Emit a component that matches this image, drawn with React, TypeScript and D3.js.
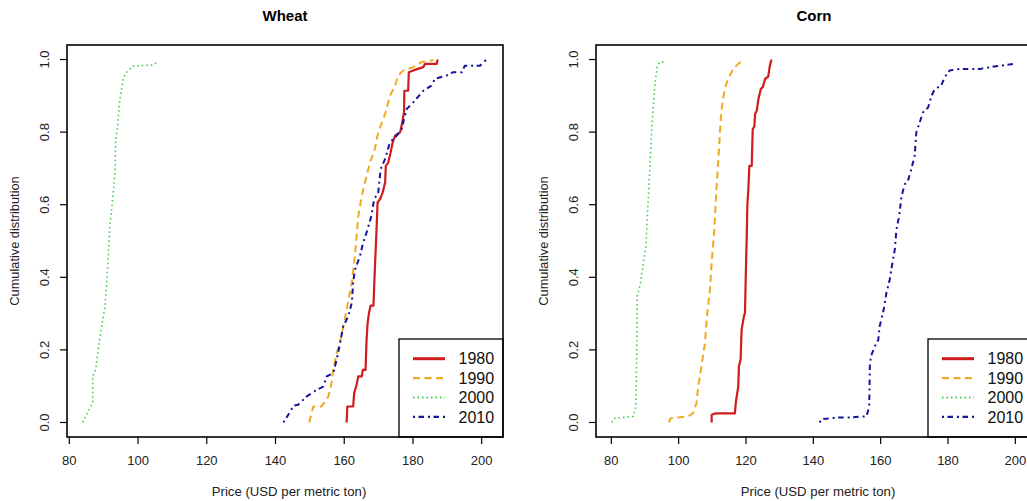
import * as d3 from "d3";

type Pt = [number, number]; // [price, cumulative share]

const DECADES = ["1980", "1990", "2000", "2010"];
const X_TICKS = [80, 100, 120, 140, 160, 180, 200];
const Y_TICKS = [0, 0.2, 0.4, 0.6, 0.8, 1.0];

// Wheat
const wheat1980: Pt[] = [
  [160.7, 0], [160.9, 0.044], [162.6, 0.044], [162.9, 0.081], [163.6, 0.104],
  [164.1, 0.127], [165.1, 0.127], [165.4, 0.145], [166.2, 0.145], [166.5, 0.228],
  [166.8, 0.274], [167.2, 0.302], [167.7, 0.322], [168.5, 0.322], [168.9, 0.42],
  [169.4, 0.532], [169.7, 0.606], [170.4, 0.615], [171.2, 0.634], [171.9, 0.661],
  [172.1, 0.707], [172.8, 0.716], [173.5, 0.744], [174.1, 0.772], [174.8, 0.79],
  [176.3, 0.8], [176.7, 0.818], [177.4, 0.855], [177.5, 0.914], [178.6, 0.914],
  [178.8, 0.965], [180.1, 0.97], [183.0, 0.979], [183.5, 0.988], [186.9, 0.988],
  [187.2, 1.0],
];
const wheat1990: Pt[] = [
  [149.8, 0], [151.0, 0.044], [153.4, 0.044], [155.4, 0.072], [156.3, 0.109],
  [156.8, 0.145], [157.8, 0.19], [159.2, 0.238], [160.7, 0.311], [162.2, 0.385],
  [163.1, 0.459], [164.1, 0.569], [165.1, 0.624], [166.0, 0.661], [167.5, 0.716],
  [168.9, 0.753], [169.9, 0.8], [171.4, 0.836], [172.3, 0.864], [173.3, 0.9],
  [174.8, 0.928], [175.7, 0.956], [177.2, 0.97], [180.1, 0.979], [182.5, 0.993],
  [185.4, 0.997], [185.9, 1.0],
];
const wheat2000: Pt[] = [
  [83.9, 0], [86.0, 0.04], [86.8, 0.054], [86.8, 0.127], [87.7, 0.146],
  [88.4, 0.2], [89.4, 0.265], [90.4, 0.32], [91.1, 0.42], [91.8, 0.54],
  [92.6, 0.615], [93.3, 0.69], [93.5, 0.78], [94.0, 0.81], [94.5, 0.873],
  [95.2, 0.919], [95.7, 0.95], [96.7, 0.965], [98.6, 0.982], [104.4, 0.985],
  [105.6, 0.993],
];
const wheat2010: Pt[] = [
  [142.3, 0], [143.7, 0.021], [145.2, 0.046], [146.6, 0.049], [149.1, 0.072],
  [152.0, 0.09], [153.9, 0.099], [154.9, 0.127], [156.8, 0.136], [157.8, 0.173],
  [158.8, 0.219], [159.7, 0.265], [161.2, 0.293], [162.2, 0.33], [162.6, 0.385],
  [163.1, 0.42], [164.6, 0.459], [165.5, 0.495], [166.5, 0.523], [167.9, 0.569],
  [168.7, 0.615], [169.9, 0.634], [170.6, 0.698], [171.9, 0.726], [173.3, 0.772],
  [174.8, 0.785], [176.7, 0.808], [177.4, 0.836], [178.2, 0.864], [180.1, 0.882],
  [183.0, 0.914], [185.4, 0.928], [186.4, 0.947], [189.8, 0.956], [191.7, 0.965],
  [194.2, 0.965], [195.1, 0.983], [199.5, 0.983], [201.4, 1.0],
];

// Corn
const corn1980: Pt[] = [
  [109.8, 0], [109.8, 0.021], [110.8, 0.025], [116.7, 0.025], [117.0, 0.057],
  [117.7, 0.098], [117.9, 0.155], [118.4, 0.173], [118.7, 0.256], [119.4, 0.293],
  [119.7, 0.302], [120.0, 0.431], [120.2, 0.505], [120.4, 0.597], [120.7, 0.643],
  [121.0, 0.707], [121.7, 0.707], [122.0, 0.808], [122.5, 0.816], [122.7, 0.85],
  [123.2, 0.859], [123.7, 0.891], [124.4, 0.919], [125.0, 0.924], [125.7, 0.947],
  [126.6, 0.953], [127.1, 0.984], [127.6, 1.0],
];
const corn1990: Pt[] = [
  [97.1, 0], [97.6, 0.012], [102.9, 0.017], [104.3, 0.026], [105.3, 0.053],
  [105.8, 0.099], [106.8, 0.155], [107.8, 0.219], [108.5, 0.302], [109.3, 0.366],
  [109.8, 0.44], [110.6, 0.532], [111.1, 0.624], [111.6, 0.698], [112.1, 0.772],
  [112.5, 0.836], [113.0, 0.882], [113.7, 0.919], [114.7, 0.947], [116.2, 0.974],
  [117.7, 0.988], [119.0, 0.997],
];
const corn2000: Pt[] = [
  [80.1, 0], [81.1, 0.012], [86.5, 0.017], [87.3, 0.044], [87.5, 0.164],
  [87.7, 0.348], [88.7, 0.385], [89.5, 0.44], [90.3, 0.486], [90.7, 0.569],
  [91.2, 0.652], [91.5, 0.716], [92.0, 0.808], [92.5, 0.873], [93.0, 0.937],
  [93.7, 0.983], [94.4, 0.993], [96.1, 0.993],
];
const corn2010: Pt[] = [
  [141.9, 0], [142.4, 0.009], [147.9, 0.014], [150.8, 0.014], [155.8, 0.017],
  [156.6, 0.044], [156.8, 0.164], [157.3, 0.187], [158.3, 0.21], [159.3, 0.228],
  [159.7, 0.265], [160.9, 0.311], [161.7, 0.357], [162.7, 0.394], [163.5, 0.44],
  [164.2, 0.477], [164.7, 0.532], [165.5, 0.569], [166.2, 0.624], [167.2, 0.657],
  [168.1, 0.666], [169.1, 0.698], [170.1, 0.735], [170.6, 0.8], [171.6, 0.827],
  [172.6, 0.855], [174.1, 0.868], [175.1, 0.9], [176.1, 0.919], [178.0, 0.928],
  [179.0, 0.951], [180.5, 0.97], [183.5, 0.974], [189.4, 0.974], [195.4, 0.983],
  [199.8, 0.988],
];

const STYLES = [
  { color: "#d01c1c", dash: null, width: 2.2, legendWidth: 3 },
  { color: "#eeaa22", dash: "7,4.5", width: 2, legendWidth: 2.4 },
  { color: "#3fcf4a", dash: "1.5,3", width: 1.6, legendWidth: 1.8 },
  { color: "#14149c", dash: "2,3.5,5.5,4", width: 2, legendWidth: 2.4 },
];

const FONT = "'Liberation Sans', Arial, sans-serif";

function Panel({ title, series, left, xDomain }: {
  title: string;
  series: Pt[][];
  left: number;
  xDomain: [number, number];
}) {
  const top = 45;
  const bottom = 437;
  const right = left + 436;
  const x = d3.scaleLinear().domain(xDomain).range([left, right]);
  const y = d3.scaleLinear().domain([-0.04, 1.04]).range([bottom, top]);
  const line = d3.line<Pt>().x((d) => x(d[0])).y((d) => y(d[1]));
  const fmt = d3.format(".1f");
  const cx = (left + right) / 2;
  const legX = left + 332;
  const legY = 339;

  return (
    <g fontFamily={FONT}>
      <text x={cx} y={20.5} textAnchor="middle" fontWeight="bold" fontSize={15}>
        {title}
      </text>

      {series.map((s, i) => (
        <path
          key={i}
          d={line(s) ?? ""}
          fill="none"
          stroke={STYLES[i].color}
          strokeWidth={STYLES[i].width}
          strokeDasharray={STYLES[i].dash ?? undefined}
          strokeLinejoin="round"
        />
      ))}

      {/* legend, bottom right */}
      <rect x={legX} y={legY} width={right - legX} height={bottom - legY} fill="white" stroke="#000" strokeWidth={1.3} />
      {DECADES.map((d, i) => {
        const ly = legY + 19.7 + i * 19.4;
        return (
          <g key={d}>
            <line
              x1={legX + 14}
              x2={legX + 46}
              y1={ly}
              y2={ly}
              stroke={STYLES[i].color}
              strokeWidth={STYLES[i].legendWidth}
              strokeDasharray={STYLES[i].dash ?? undefined}
            />
            <text x={legX + 59.5} y={ly} dy="0.36em" fontSize={16} fill="#111">
              {d}
            </text>
          </g>
        );
      })}

      <rect x={left} y={top} width={right - left} height={bottom - top} fill="none" stroke="#000" strokeWidth={1.6} />

      {/* x axis */}
      {X_TICKS.map((t) => (
        <g key={t}>
          <line x1={x(t)} x2={x(t)} y1={bottom} y2={bottom + 7} stroke="#000" strokeWidth={1.2} />
          <text x={x(t)} y={465} textAnchor="middle" fontSize={13} fill="#222">
            {t}
          </text>
        </g>
      ))}
      <text x={cx + 4} y={495.5} textAnchor="middle" fontSize={13.2} fill="#222">
        Price (USD per metric ton)
      </text>

      {/* y axis */}
      {Y_TICKS.map((t) => (
        <g key={t}>
          <line x1={left - 7} x2={left} y1={y(t)} y2={y(t)} stroke="#000" strokeWidth={1.2} />
          <text
            transform={`translate(${left - 23},${y(t)}) rotate(-90)`}
            dy="0.36em"
            textAnchor="middle"
            fontSize={13}
            fill="#222"
          >
            {fmt(t)}
          </text>
        </g>
      ))}
      <text
        transform={`translate(${left - 52.5},${(top + bottom) / 2}) rotate(-90)`}
        dy="0.36em"
        textAnchor="middle"
        fontSize={12.8}
        fill="#222"
      >
        Cumulative distribution
      </text>
    </g>
  );
}

export default function App() {
  return (
    <svg
      width={1027}
      height={501}
      style={{ position: "absolute", left: 0, top: 0, background: "#fff" }}
    >
      <rect width={1027} height={501} fill="#fff" />
      <Panel
        title="Wheat"
        series={[wheat1980, wheat1990, wheat2000, wheat2010]}
        left={67}
        xDomain={[79.33, 206.2]}
      />
      <Panel
        title="Corn"
        series={[corn1980, corn1990, corn2000, corn2010]}
        left={596}
        xDomain={[75.45, 204.95]}
      />
    </svg>
  );
}
